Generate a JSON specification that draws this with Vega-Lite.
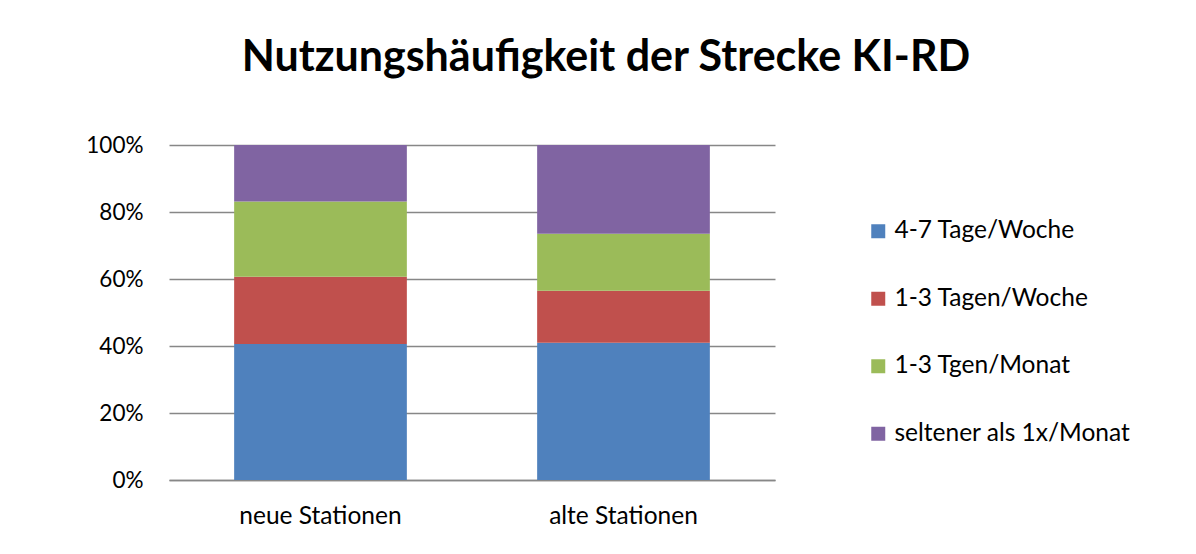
{
  "$schema": "https://vega.github.io/schema/vega-lite/v6.json",
  "autosize": {"type": "none"},
  "padding": {"left": 169, "top": 145, "right": 421, "bottom": 74},
  "width": 606,
  "height": 335,
  "background": "white",
  "title": {
    "text": "Nutzungshäufigkeit der Strecke KI-RD",
    "font": "Lato",
    "fontSize": 43,
    "fontWeight": "bold",
    "color": "#000000",
    "anchor": "middle",
    "frame": "group",
    "dx": 134,
    "baseline": "alphabetic",
    "offset": 20
  },
  "data": {
    "values": [
      {"station": "neue Stationen", "kategorie": "4-7 Tage/Woche", "rang": 1, "anteil": 0.406},
      {"station": "neue Stationen", "kategorie": "1-3 Tagen/Woche", "rang": 2, "anteil": 0.201},
      {"station": "neue Stationen", "kategorie": "1-3 Tgen/Monat", "rang": 3, "anteil": 0.224},
      {"station": "neue Stationen", "kategorie": "seltener als 1x/Monat", "rang": 4, "anteil": 0.169},
      {"station": "alte Stationen", "kategorie": "4-7 Tage/Woche", "rang": 1, "anteil": 0.410},
      {"station": "alte Stationen", "kategorie": "1-3 Tagen/Woche", "rang": 2, "anteil": 0.155},
      {"station": "alte Stationen", "kategorie": "1-3 Tgen/Monat", "rang": 3, "anteil": 0.170},
      {"station": "alte Stationen", "kategorie": "seltener als 1x/Monat", "rang": 4, "anteil": 0.265}
    ]
  },
  "mark": {"type": "bar"},
  "encoding": {
    "x": {
      "field": "station",
      "type": "nominal",
      "sort": ["neue Stationen", "alte Stationen"],
      "scale": {"paddingInner": 0.43, "paddingOuter": 0.215},
      "axis": {
        "title": null,
        "labelAngle": 0,
        "labelFont": "Lato",
        "labelFontSize": 24.5,
        "labelColor": "#000000",
        "labelPadding": 24,
        "ticks": false,
        "domain": true,
        "domainColor": "#878787",
        "domainWidth": 1.5
      }
    },
    "y": {
      "field": "anteil",
      "type": "quantitative",
      "stack": "zero",
      "scale": {"domain": [0, 1]},
      "axis": {
        "title": null,
        "format": ".0%",
        "values": [0, 0.2, 0.4, 0.6, 0.8, 1],
        "labelFont": "Lato",
        "labelFontSize": 22.5,
        "labelColor": "#000000",
        "labelPadding": 26,
        "ticks": false,
        "domain": false,
        "grid": true,
        "gridColor": "#878787",
        "gridWidth": 1.5
      }
    },
    "color": {
      "field": "kategorie",
      "type": "nominal",
      "scale": {
        "domain": ["4-7 Tage/Woche", "1-3 Tagen/Woche", "1-3 Tgen/Monat", "seltener als 1x/Monat"],
        "range": ["#4F81BD", "#C0504D", "#9BBB59", "#8064A2"]
      },
      "legend": {
        "title": null,
        "orient": "none",
        "legendX": 697,
        "legendY": 74,
        "symbolType": "square",
        "symbolSize": 196,
        "symbolStrokeWidth": 0,
        "symbolOpacity": 1,
        "labelFont": "Lato",
        "labelFontSize": 24.5,
        "labelColor": "#000000",
        "labelOffset": 4,
        "rowPadding": 42.5,
        "labelLimit": 400
      }
    },
    "order": {"field": "rang", "type": "quantitative", "sort": "ascending"}
  },
  "config": {
    "view": {"stroke": null},
    "axis": {"gridCap": "butt"}
  }
}
